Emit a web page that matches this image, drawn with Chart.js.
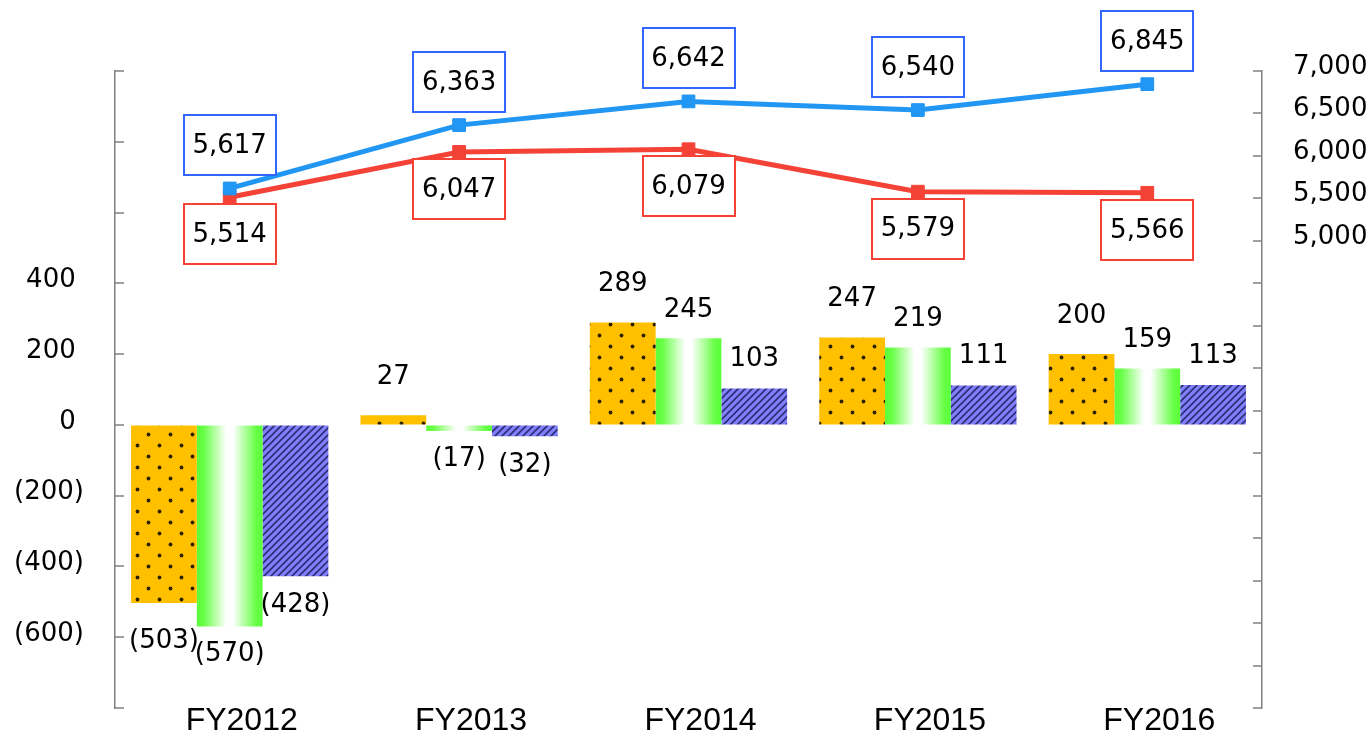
<!DOCTYPE html>
<html>
<head>
<meta charset="utf-8">
<script src="https://cdn.jsdelivr.net/npm/chart.js@4/dist/chart.umd.min.js"></script>
<style>
    html, body { margin: 0; padding: 0; background: #ffffff; }
    #wrap { width: 1371px; height: 733px; }
</style>
</head>
<body>
<div id="wrap"><canvas id="chart" width="1371" height="733"></canvas></div>
<script>
const categories = ["FY2012", "FY2013", "FY2014", "FY2015", "FY2016"];
const barOrange = [-503, 27, 289, 247, 200];
const barGreen = [-570, -17, 245, 219, 159];
const barBlue = [-428, -32, 103, 111, 113];
const lineBlue = [5617, 6363, 6642, 6540, 6845];
const lineRed = [5514, 6047, 6079, 5579, 5566];
const leftTickLabels = [400, 200, 0, -200, -400, -600];
const rightTickLabels = [5000, 5500, 6000, 6500, 7000];

const canvas = document.getElementById("chart");
const ctx = canvas.getContext("2d");

function dotPattern() {
    // orange fill with staggered dark dots
    const c = document.createElement("canvas");
    c.width = 22;
    c.height = 22;
    const g = c.getContext("2d");
    g.fillStyle = "#FFC000";
    g.fillRect(0, 0, 22, 22);
    g.fillStyle = "#2e2200";
    [[5.5, 5.5], [16.5, 16.5]].forEach(([x, y]) => {
        g.beginPath();
        g.arc(x, y, 1.9, 0, 2 * Math.PI);
        g.fill();
    });
    return ctx.createPattern(c, "repeat");
}

function hatchPattern() {
    // light blue fill with dark "/" stripes
    const s = 7;
    const c = document.createElement("canvas");
    c.width = s;
    c.height = s;
    const g = c.getContext("2d");
    g.fillStyle = "#8080FF";
    g.fillRect(0, 0, s, s);
    g.strokeStyle = "#2c2c72";
    g.lineWidth = 1.6;
    [[0, s, s, 0], [-1, 1, 1, -1], [s - 1, s + 1, s + 1, s - 1]].forEach(([x1, y1, x2, y2]) => {
        g.beginPath();
        g.moveTo(x1, y1);
        g.lineTo(x2, y2);
        g.stroke();
    });
    return ctx.createPattern(c, "repeat");
}

const CAT_PCT = 0.86;

function greenGradient(context) {
    const chart = context.chart;
    const area = chart.chartArea;
    if (!area || context.type !== "data") {
        return "#66FF44";
    }
    const center = chart.scales.x.getPixelForValue(context.dataIndex);
    const half = (area.right - area.left) / categories.length * CAT_PCT / 3 / 2;
    const grad = chart.ctx.createLinearGradient(center - half, 0, center + half, 0);
    grad.addColorStop(0, "#5CFF3A");
    grad.addColorStop(0.1, "#66FF44");
    grad.addColorStop(0.45, "#FFFFFF");
    grad.addColorStop(0.55, "#FFFFFF");
    grad.addColorStop(0.9, "#66FF44");
    grad.addColorStop(1, "#5CFF3A");
    return grad;
}

const axisTicks = {
    id: "axisTicks",
    beforeDatasetsDraw(chart) {
        const c = chart.ctx;
        ["y", "y2"].forEach(id => {
            const scale = chart.scales[id];
            const x0 = id === "y" ? scale.right : scale.left;
            const dir = id === "y" ? 1 : -1;
            c.save();
            c.strokeStyle = "#7f7f7f";
            c.lineWidth = 1.5;
            scale.ticks.forEach(t => {
                const y = Math.round(scale.getPixelForValue(t.value));
                c.beginPath();
                c.moveTo(x0, y);
                c.lineTo(x0 + dir * 9, y);
                c.stroke();
            });
            c.restore();
        });
    }
};

function fmtNeg(v) {
    return v < 0 ? "(" + (-v).toLocaleString("en-US") + ")" : v.toLocaleString("en-US");
}

const valueLabels = {
    id: "valueLabels",
    afterDatasetsDraw(chart) {
        const c = chart.ctx;
        c.save();
        c.font = "26px 'DejaVu Sans'";
        c.textAlign = "center";
        c.textBaseline = "middle";
        chart.data.datasets.forEach((ds, i) => {
            const meta = chart.getDatasetMeta(i);
            meta.data.forEach((el, j) => {
                const v = ds.data[j];
                if (ds.type === "line") {
                    const text = v.toLocaleString("en-US");
                    const w = Math.round(c.measureText(text).width + 18);
                    const h = 60;
                    const top = ds.labelAbove ? el.y - 13 - h : el.y + 7;
                    const left = Math.round(el.x - w / 2);
                    c.fillStyle = "#ffffff";
                    c.fillRect(left, Math.round(top), w, h);
                    c.strokeStyle = ds.boxColor;
                    c.lineWidth = 2;
                    c.strokeRect(left, Math.round(top), w, h);
                    c.fillStyle = "#000000";
                    c.fillText(text, el.x, top + h / 2 + 1);
                } else {
                    const y = v < 0 ? el.y + ds.labelGap : el.y - ds.labelGap;
                    c.fillStyle = "#000000";
                    c.fillText(fmtNeg(v), el.x, y);
                }
            });
        });
        c.restore();
    }
};

new Chart(ctx, {
    type: "bar",
    data: {
        labels: categories,
        datasets: [
            {
                type: "line", label: "Line A", data: lineBlue, yAxisID: "y2", order: 0,
                borderColor: "#2196F3", backgroundColor: "#2196F3", borderWidth: 5,
                pointStyle: "rect", pointRadius: 9, pointBorderWidth: 1,
                pointBackgroundColor: "#2196F3", pointBorderColor: "#2196F3",
                tension: 0, fill: false, clip: false,
                labelAbove: true, boxColor: "#3366FF"
            },
            {
                type: "line", label: "Line B", data: lineRed, yAxisID: "y2", order: 0,
                borderColor: "#F44336", backgroundColor: "#F44336", borderWidth: 5,
                pointStyle: "rect", pointRadius: 9, pointBorderWidth: 1,
                pointBackgroundColor: "#F44336", pointBorderColor: "#F44336",
                tension: 0, fill: false, clip: false,
                labelAbove: false, boxColor: "#F44336"
            },
            {
                label: "Bar A", data: barOrange, yAxisID: "y", order: 1,
                backgroundColor: dotPattern(), borderWidth: 0, labelGap: 38
            },
            {
                label: "Bar B", data: barGreen, yAxisID: "y", order: 1,
                backgroundColor: greenGradient, borderWidth: 0, labelGap: 28
            },
            {
                label: "Bar C", data: barBlue, yAxisID: "y", order: 1,
                backgroundColor: hatchPattern(), borderWidth: 0, labelGap: 29
            }
        ]
    },
    options: {
        responsive: false,
        animation: false,
        devicePixelRatio: 1,
        categoryPercentage: CAT_PCT,
        barPercentage: 1,
        layout: {padding: {top: 71, left: 0, right: 0, bottom: 0}},
        plugins: {legend: {display: false}, tooltip: {enabled: false}},
        scales: {
            x: {
                grid: {display: false},
                border: {display: false},
                ticks: {
                    color: "#000000",
                    font: {family: "'Liberation Sans', Arial", size: 32, lineHeight: 1},
                    padding: -11,
                    labelOffset: 12,
                    maxRotation: 0
                },
                afterFit(scale) {
                    scale.height = 25;
                    scale.paddingLeft = 0;
                    scale.paddingRight = 0;
                }
            },
            y: {
                position: "left",
                min: -800,
                max: 1000,
                grid: {display: true, drawOnChartArea: false, drawTicks: false},
                border: {display: true, color: "#7f7f7f", width: 1.5},
                ticks: {
                    stepSize: 200,
                    color: "#000000",
                    padding: 31,
                    labelOffset: -3,
                    autoSkip: false,
                    font: {family: "'DejaVu Sans'", size: 26, lineHeight: 1},
                    callback: v => leftTickLabels.includes(v) ? (v < 0 ? "(" + (-v) + ")" : v + "\u2008") : ""
                },
                afterFit(scale) {
                    scale.width = 115;
                    scale.paddingTop = 0;
                    scale.paddingBottom = 0;
                }
            },
            y2: {
                position: "right",
                min: -500,
                max: 7000,
                grid: {display: true, drawOnChartArea: false, drawTicks: false},
                border: {display: true, color: "#7f7f7f", width: 1.5},
                ticks: {
                    stepSize: 500,
                    color: "#000000",
                    padding: 31,
                    labelOffset: -4,
                    autoSkip: false,
                    font: {family: "'DejaVu Sans'", size: 26, lineHeight: 1},
                    callback: v => rightTickLabels.includes(v) ? v.toLocaleString("en-US") : ""
                },
                afterFit(scale) {
                    scale.width = 109;
                    scale.paddingTop = 0;
                    scale.paddingBottom = 0;
                }
            }
        }
    },
    plugins: [axisTicks, valueLabels]
});
</script>
</body>
</html>
